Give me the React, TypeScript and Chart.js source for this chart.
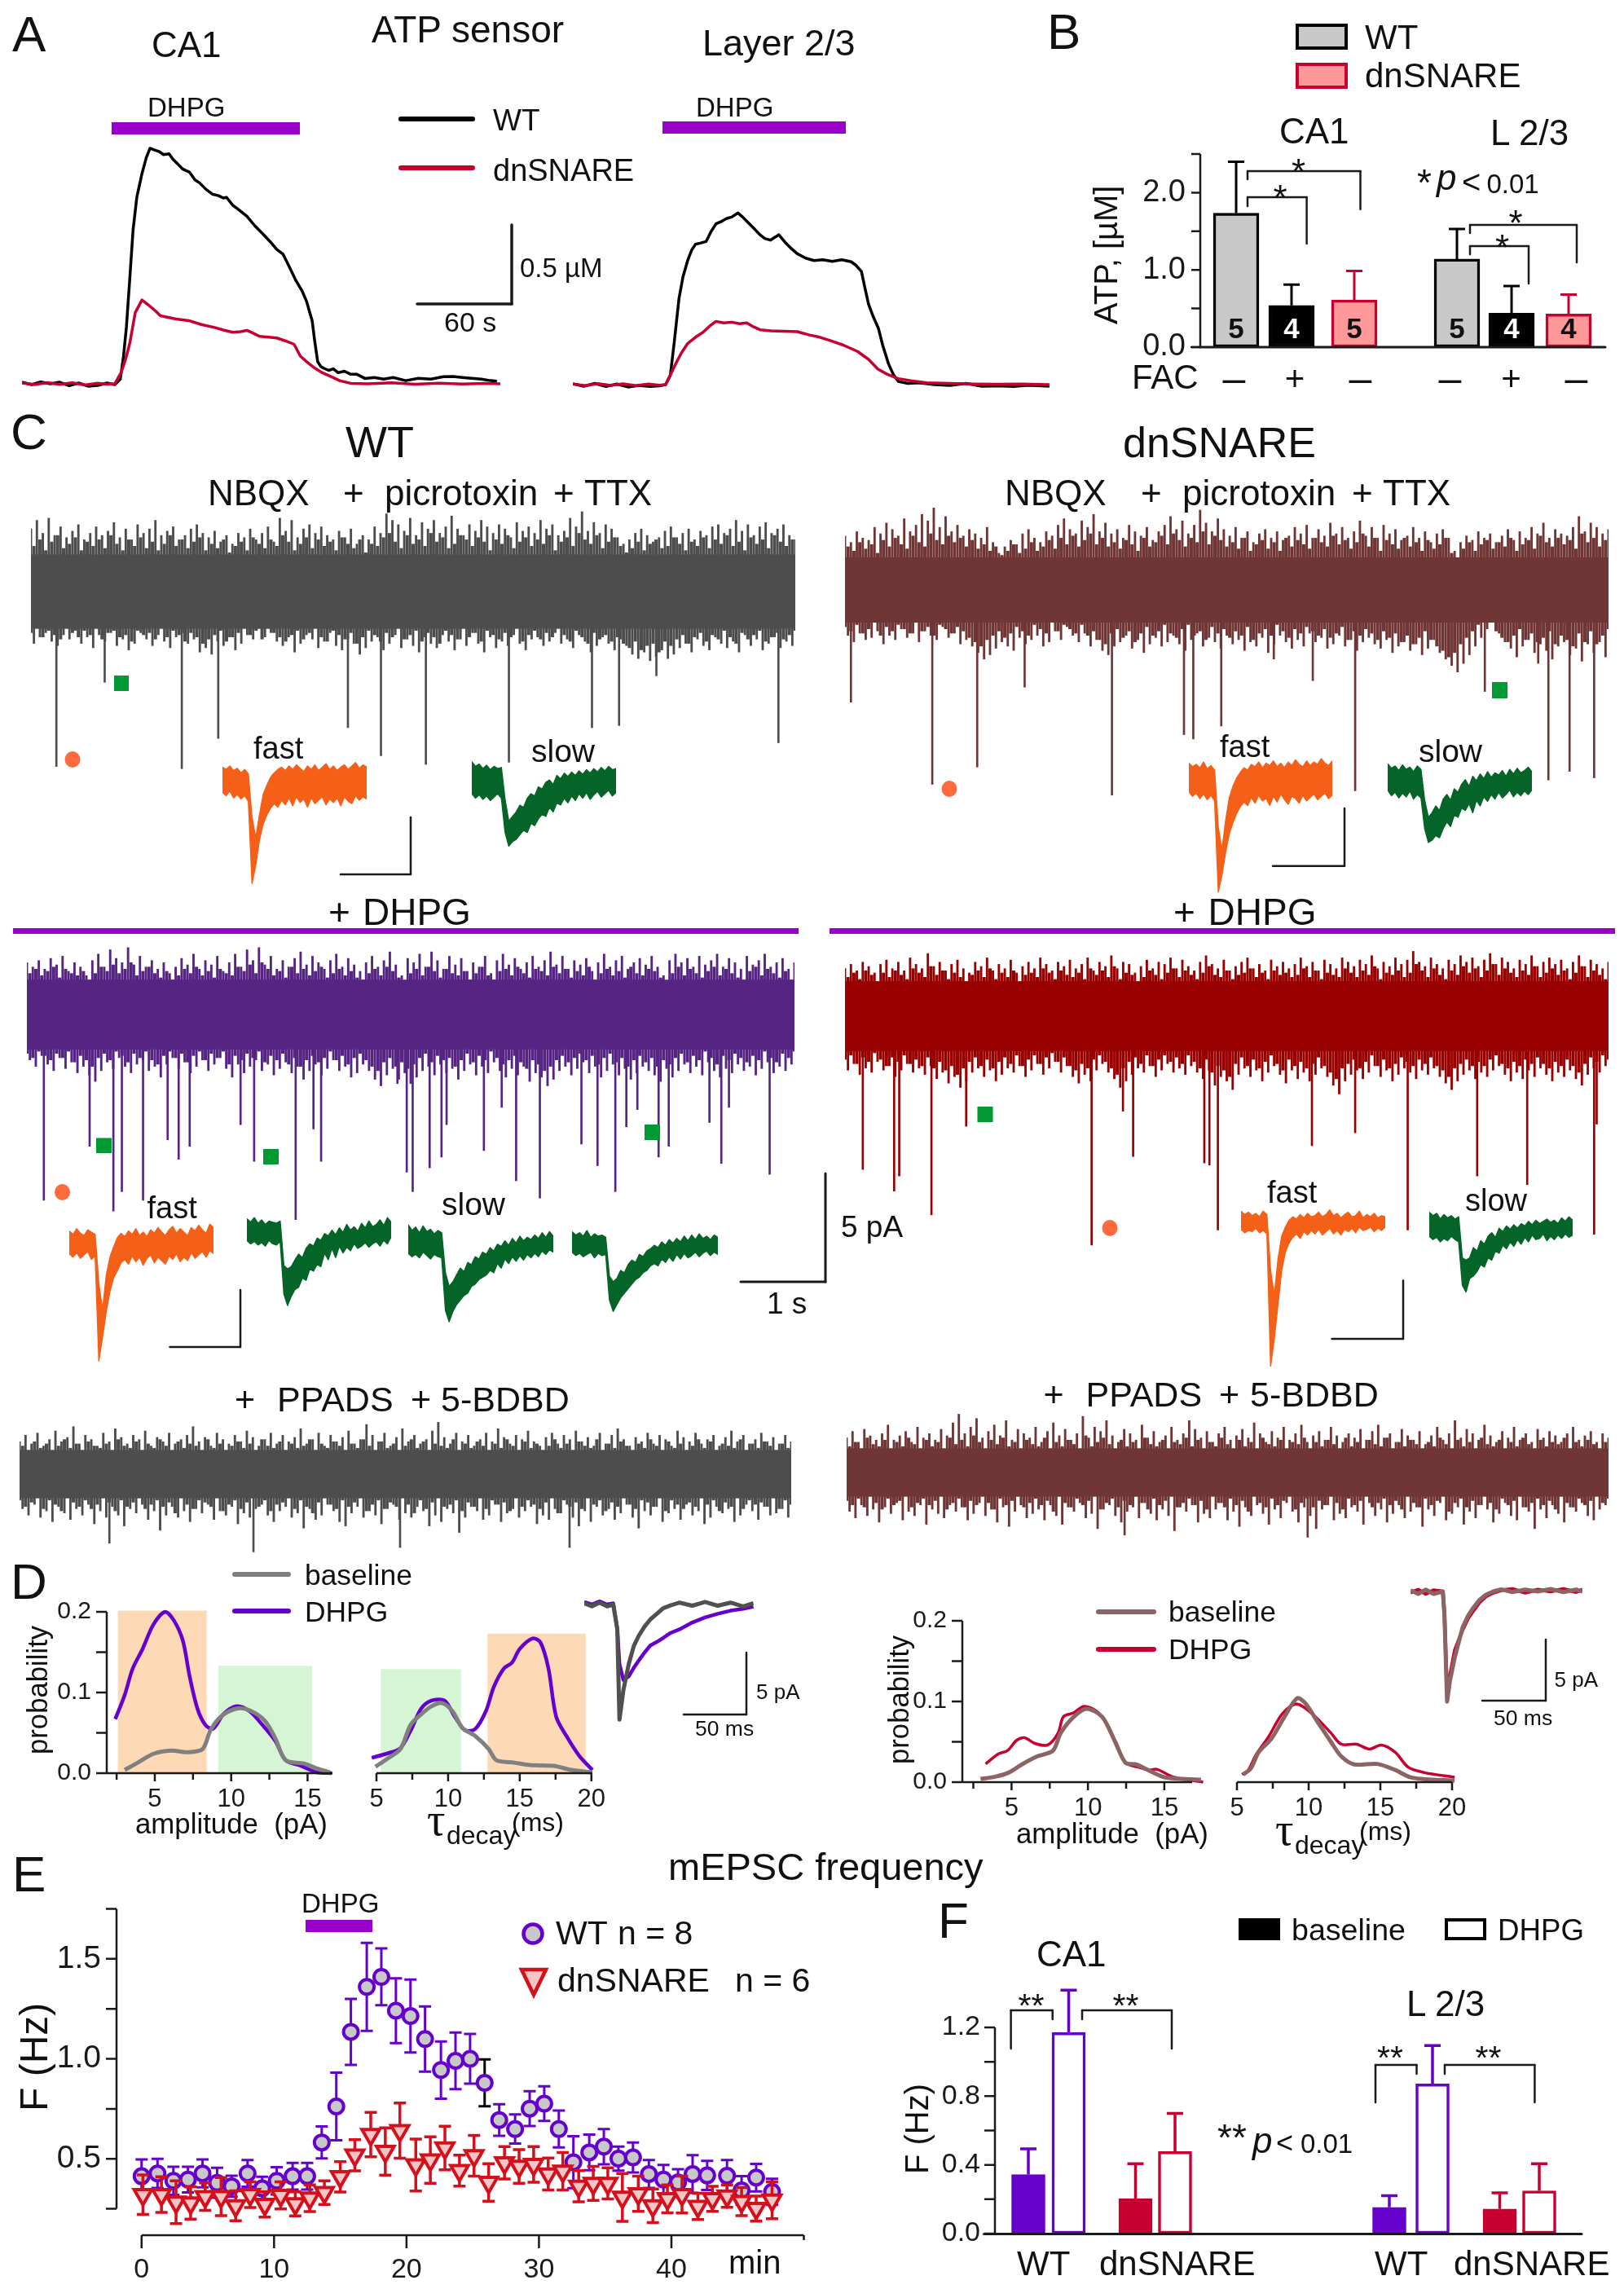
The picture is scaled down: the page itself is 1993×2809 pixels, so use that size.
import { useEffect, useRef } from "react";
import { Chart, registerables } from "chart.js";
Chart.register(...registerables);

// ---------- Panel A: ATP sensor traces (s, µM)
const aCa1WtT = [0,6,12,18,24,30,36,42,48,54,59,62.5,64.5,66.4,68.5,70.6,73,76.3,79,81.4,84,87,90,93.5,96,98.6,102,104,106.4,110,113,117,121,125,128,130,134,138,143,148,153,158,162,166,170,174,178,181,183,184.5,186,188,190,192,195,198,201,205,209,213,218,224,230,236,244,252,260,268,274,280,286,292,298,302];
const aCa1WtV = [0.01,-0.005,0.012,0,0.01,-0.012,0.005,-0.015,-0.01,0.005,-0.005,0.03,0.17,0.36,0.66,0.97,1.18,1.33,1.43,1.49,1.48,1.47,1.45,1.455,1.42,1.395,1.36,1.35,1.34,1.29,1.27,1.23,1.2,1.19,1.175,1.18,1.13,1.1,1.06,1,0.95,0.897,0.85,0.82,0.74,0.656,0.59,0.52,0.45,0.4,0.28,0.14,0.11,0.098,0.085,0.095,0.07,0.08,0.06,0.06,0.034,0.04,0.03,0.04,0.02,0.035,0.03,0.045,0.046,0.04,0.035,0.03,0.02,0.017];
const aCa1DnT = [0,8,16,24,32,40,48,54,59,63,66,68.6,72,76.3,81.4,85,88,93,98,106,114,123,128,134,139,143,147,151,157,162,168,173,177,181,186,191,196.5,202,209,220,235,250,265,280,295,306];
const aCa1DnV = [0.005,-0.005,0.008,-0.004,0.006,-0.008,0.004,-0.003,0,0.07,0.16,0.26,0.45,0.53,0.49,0.46,0.43,0.42,0.41,0.4,0.375,0.355,0.34,0.326,0.33,0.338,0.32,0.3,0.295,0.29,0.27,0.25,0.175,0.14,0.1,0.07,0.046,0.02,0.003,0,0.006,-0.002,0.004,-0.001,0.003,0];
const aL23WtT = [0,7,14,21,28,35,42,49,55,59,62,64.5,67.5,70,73,75.5,78,81,84.7,88,91,94,97.6,101,105,108,110.6,115,119,122,125.6,129,131,135,139,142.7,148,153.4,159,165,171,177,180,183.5,186,188,191,194.3,197,200.7,204,207,213,220,230,240,250,260,270,280,290,303];
const aL23WtV = [0.005,-0.01,0.008,-0.012,0.004,-0.015,-0.005,-0.012,-0.008,0,0.06,0.27,0.545,0.68,0.785,0.85,0.888,0.895,0.905,0.97,1.017,1.03,1.05,1.06,1.086,1.06,1.034,0.99,0.948,0.925,0.914,0.935,0.948,0.9,0.86,0.828,0.8,0.785,0.79,0.78,0.79,0.777,0.755,0.716,0.6,0.51,0.43,0.356,0.25,0.132,0.06,0.02,0.008,0.012,0,-0.005,0.008,-0.01,-0.008,-0.012,-0.004,-0.01];
const aL23DnT = [0,8,16,24,32,40,48,55,59,62,65.4,69,73,78,82.6,87,91,96,101,106,110.6,115,119,126,134,142.7,150,157,164,172,181,188,194,200,207,215,225,240,255,270,285,303];
const aL23DnV = [0.004,-0.006,0.006,-0.005,0.005,-0.006,0.004,-0.004,0,0.06,0.132,0.2,0.26,0.3,0.33,0.37,0.4,0.39,0.395,0.385,0.39,0.365,0.347,0.34,0.338,0.335,0.315,0.3,0.278,0.25,0.21,0.16,0.098,0.065,0.038,0.025,0.012,0.008,0.004,0.002,0.004,0];

// ---------- Panel B: ATP (µM)
const bValues = [1.735,0.54,0.61,1.14,0.44,0.43];
const bErrTop = [2.4,0.81,0.985,1.53,0.79,0.68];
const bSlots = [44,112,189,315,382,452];

// ---------- Panel C: current traces, envelope per time column (0.1 pA)
const c1Up = [29,33,27,34,26,30,25,28,31,24,27,30,26,28,32,25,29,24,31,27,29,33,26,28,30,24,26,29,31,27,25,28,23,26,22,27,25,29,24,27,30,23,34,28,33,25,29,31,27,30,26,24,28,25,29,22,26,24,30,27,36,33,31,28,34,26,32,29,33,27,30,35,29,26,31,28,33,30,27,31,29,25,32,28,30,27,33,29,31,26,28,34,30,37,28,32,27,31,29,25,22,24,27,29,26,23,25,28,30,25,27,29,24,28,26,30,31,27,29,33,28,31,26,30,32,27,29,31,26,24];
const c1UpMid = [21,24,19,23,26,20,22,25,19,23,21,24,20,26,22,19,24,21,25,20,23,19,22,26,21,24,20,23,25,19,22,20,24,18,21,23,19,25,22,20,24,21,26,23,19,22,25,20,24,21,23,19,25,22,20,24,18,22,21,25,27,23,20,26,22,24,21,27,23,25,20,22,26,24,21,25,23,19,24,22,26,20,23,25,21,24,22,26,19,23,25,21,27,24,22,26,20,23,25,21,18,20,23,19,22,24,20,21,25,22,19,23,21,25,20,24,22,26,21,23,19,25,22,24,20,26,23,21,24,20];
const c1Down = [-24,-21,-19,-23,-25,-20,-22,-18,-24,-21,-26,-20,-23,-19,-25,-22,-27,-24,-19,-22,-25,-20,-23,-26,-21,-19,-24,-22,-28,-26,-29,-23,-25,-21,-27,-24,-20,-22,-17,-21,-19,-23,-25,-21,-28,-24,-20,-22,-26,-23,-19,-25,-27,-22,-24,-29,-26,-23,-21,-27,-24,-20,-26,-22,-25,-28,-21,-24,-26,-20,-23,-27,-22,-25,-19,-24,-28,-21,-26,-23,-25,-20,-24,-27,-22,-21,-25,-23,-19,-24,-22,-26,-20,-23,-28,-25,-21,-24,-27,-22,-25,-29,-31,-28,-32,-30,-27,-31,-29,-26,-24,-28,-22,-25,-27,-21,-24,-26,-23,-28,-20,-25,-22,-27,-24,-21,-26,-23,-25,-20];
const c1DownMid = [-19,-17,-21,-18,-20,-22,-17,-19,-21,-18,-20,-17,-22,-19,-18,-21,-20,-23,-18,-20,-19,-22,-17,-21,-18,-20,-23,-19,-21,-24,-22,-20,-18,-23,-21,-19,-17,-20,-18,-22,-17,-19,-21,-23,-20,-18,-22,-19,-17,-21,-23,-18,-20,-22,-19,-24,-21,-18,-20,-23,-19,-21,-17,-22,-20,-18,-23,-19,-21,-24,-18,-20,-22,-17,-21,-19,-23,-18,-20,-22,-19,-21,-17,-23,-20,-18,-22,-19,-21,-17,-20,-23,-18,-21,-24,-19,-22,-20,-23,-21,-24,-26,-23,-27,-25,-24,-28,-23,-25,-22,-20,-24,-21,-19,-23,-20,-22,-18,-21,-24,-19,-22,-20,-18,-23,-21,-19,-22,-20,-18];
const c1SpikeT = [0.3,0.87,1.78,2.21,3.74,4.13,4.66,5.64,6.62,6.94,7.38,8.82];
const c1SpikeD = [-81,-42,-82,-68,-63,-76,-80,-79,-63,-62,-39,-70];

const c2Up = [25,22,27,24,23,29,26,31,28,25,33,27,30,35,32,38,29,34,27,30,25,28,26,24,29,22,17,20,23,21,26,28,24,22,27,25,30,33,28,26,32,29,35,27,31,26,28,24,30,27,25,29,23,27,30,34,28,32,26,30,37,31,27,33,28,25,29,24,27,22,26,28,24,27,23,25,29,26,30,24,28,25,31,26,29,24,27,32,25,29,24,30,26,28,23,25,29,24,27,22,26,28,24,18,22,25,23,27,24,26,22,25,28,23,27,24,29,26,31,24,28,26,25,29,34,27,31,29,26,28];
const c2UpMid = [20,18,22,19,21,17,23,20,24,21,19,25,22,20,26,23,21,25,22,24,20,23,19,21,18,20,16,18,21,17,19,22,18,20,23,19,24,21,25,20,23,26,21,24,20,22,19,23,21,18,24,20,22,25,21,26,23,20,24,22,27,21,25,23,20,22,19,24,18,21,23,19,22,18,24,20,23,21,19,24,22,20,25,21,23,19,22,26,20,24,18,23,21,19,24,20,22,18,23,19,21,24,17,15,19,22,18,21,23,19,22,20,24,18,21,23,19,25,22,20,24,21,23,19,26,22,24,20,23,21];
const c2Down = [-21,-24,-20,-23,-22,-19,-25,-21,-23,-18,-22,-20,-24,-19,-21,-23,-17,-22,-20,-25,-23,-26,-29,-32,-30,-27,-24,-26,-28,-22,-25,-23,-21,-26,-24,-19,-23,-17,-21,-24,-20,-26,-23,-28,-30,-26,-24,-21,-27,-23,-29,-25,-22,-26,-24,-21,-25,-28,-23,-20,-26,-22,-24,-27,-21,-25,-23,-28,-24,-26,-22,-29,-25,-21,-24,-27,-23,-26,-20,-24,-22,-27,-25,-21,-26,-23,-28,-24,-22,-25,-27,-23,-29,-26,-24,-28,-25,-30,-27,-23,-29,-32,-35,-38,-34,-30,-26,-22,-18,-14,-20,-24,-27,-31,-26,-23,-29,-25,-28,-32,-26,-24,-30,-27,-33,-25,-29,-24,-31,-26];
const c2DownMid = [-17,-19,-16,-20,-18,-15,-21,-17,-19,-16,-18,-20,-15,-19,-17,-21,-16,-18,-20,-17,-19,-22,-24,-26,-23,-21,-19,-22,-20,-17,-19,-21,-16,-18,-20,-15,-19,-16,-18,-20,-16,-21,-19,-23,-25,-20,-18,-22,-19,-24,-20,-17,-21,-19,-16,-20,-22,-18,-16,-21,-19,-23,-17,-20,-18,-22,-19,-21,-17,-23,-20,-18,-21,-16,-19,-22,-18,-20,-17,-19,-21,-18,-22,-20,-17,-23,-19,-21,-18,-20,-23,-19,-22,-20,-24,-21,-25,-22,-19,-23,-26,-28,-31,-29,-25,-22,-19,-16,-13,-15,-19,-22,-24,-21,-18,-23,-20,-24,-22,-19,-25,-21,-23,-26,-20,-24,-19,-25,-21,-18];
const c2SpikeT = [0.07,1.03,1.56,2.12,3.15,4,4.11,4.44,5.06,5.52,6.02,7.55,8.18,8.3,8.55,8.84];
const c2SpikeD = [-52,-90,-82,-45,-95,-67,-69,-63,-32,-42,-93,-47,-34,-88,-84,-87];

const c3Up = [24,22,25,21,26,23,27,20,24,22,18,25,28,22,30,26,24,31,23,27,22,25,21,24,19,22,26,23,28,21,25,23,27,20,24,28,22,30,25,31,23,27,21,25,22,26,29,23,27,24,21,25,28,22,26,23,20,24,27,22,25,29,23,18,26,24,28,22,29,25,21,27,23,26,20,24,22,27,19,25,28,23,26,21,24,27,22,25,29,23,27,21,25,23,26,20,24,28,22,25,27,21,24,26,23,27,22,18,25,28,24,26,22,27,23,25,28,22,26,24,21,27,23,25,28,22,24,26,21,24];
const c3UpMid = [19,21,18,20,22,17,21,19,18,20,16,19,22,20,23,19,21,24,18,20,22,19,17,20,16,18,21,19,22,18,20,17,21,19,18,22,20,23,19,24,21,18,20,17,22,19,21,18,20,22,17,19,21,18,20,17,16,19,21,18,22,20,17,15,19,21,18,22,20,17,21,19,18,20,16,19,22,18,16,20,21,18,22,19,17,21,20,18,22,19,21,17,20,18,22,16,19,21,18,20,17,22,19,18,21,20,17,15,19,22,18,21,19,17,20,22,18,21,19,17,16,20,22,18,21,19,17,20,16,19];
const c3Down = [-21,-24,-19,-23,-26,-20,-25,-22,-27,-24,-28,-31,-26,-22,-25,-20,-24,-27,-23,-21,-26,-24,-29,-23,-20,-25,-22,-27,-24,-21,-26,-23,-20,-25,-29,-23,-27,-24,-21,-26,-23,-28,-25,-22,-27,-24,-30,-26,-23,-28,-25,-21,-26,-24,-29,-27,-23,-26,-30,-33,-28,-25,-30,-27,-32,-29,-26,-24,-28,-23,-27,-25,-30,-26,-23,-28,-24,-27,-22,-26,-29,-25,-28,-24,-31,-27,-29,-33,-30,-26,-24,-28,-25,-22,-27,-24,-29,-26,-23,-28,-25,-30,-27,-24,-26,-28,-31,-25,-29,-26,-23,-27,-24,-28,-22,-26,-29,-25,-27,-23,-26,-24,-28,-25,-22,-27,-24,-26,-23,-25];
const c3DownMid = [-18,-20,-17,-19,-21,-18,-20,-17,-22,-19,-21,-24,-20,-18,-21,-17,-19,-22,-18,-20,-17,-21,-23,-19,-17,-20,-18,-22,-19,-17,-21,-18,-20,-17,-23,-19,-21,-18,-20,-17,-22,-19,-21,-18,-23,-20,-24,-21,-19,-22,-20,-17,-21,-19,-23,-20,-18,-21,-24,-26,-22,-20,-24,-22,-25,-23,-20,-18,-22,-19,-21,-20,-24,-21,-18,-22,-19,-21,-17,-20,-23,-21,-19,-22,-25,-21,-23,-26,-24,-21,-19,-22,-20,-18,-21,-19,-23,-20,-18,-22,-20,-24,-21,-19,-22,-20,-24,-21,-23,-20,-18,-22,-19,-21,-17,-20,-23,-19,-21,-18,-20,-22,-19,-21,-17,-20,-22,-18,-20,-17];
const c3SpikeT = [0.2,0.74,1.02,1.12,1.37,1.66,1.79,1.92,2.52,2.68,3.17,3.38,3.47,4.37,4.48,4.55,4.75,4.89,4.95,5.39,5.6,5.77,6.05,6.54,6.73,6.94,7.07,7.2,7.45,7.57,8.05,8.19,8.28,8.76];
const c3SpikeD = [-86,-61,-91,-82,-86,-58,-67,-61,-51,-68,-95,-53,-68,-32,-73,-82,-71,-66,-51,-63,-43,-77,-85,-60,-70,-82,-52,-44,-66,-61,-50,-69,-43,-74];

const c4Up = [22,24,21,25,23,20,24,26,22,25,21,27,24,22,29,23,25,21,24,26,22,20,25,23,27,21,24,22,26,20,23,25,22,27,24,21,25,23,26,22,24,27,21,25,23,28,22,25,24,20,23,26,22,25,24,27,22,26,23,21,25,28,24,22,26,21,23,25,27,22,24,21,26,23,25,22,24,27,23,25,21,26,24,22,27,25,23,26,24,28,22,25,23,27,24,26,30,25,23,27,24,22,26,24,28,25,27,23,26,29,24,27,25,22,26,24,28,23,25,27,24,26,22,25,28,23,26,24,22,25];
const c4UpMid = [18,20,17,21,19,16,20,18,21,19,17,22,20,18,23,19,21,17,20,18,16,19,21,18,22,17,20,18,21,16,19,20,18,22,20,17,21,19,18,20,17,22,19,21,18,23,17,20,19,16,18,21,19,17,20,22,18,21,19,17,20,23,19,18,21,17,19,20,22,18,20,17,21,19,20,18,19,22,18,21,17,20,19,18,22,20,18,21,19,23,17,20,19,21,18,20,24,21,18,22,19,17,21,19,23,20,22,18,21,24,19,22,20,18,21,19,23,18,20,22,19,21,17,20,23,18,21,19,17,20];
const c4Down = [-25,-22,-27,-24,-26,-21,-25,-23,-28,-25,-22,-26,-24,-27,-23,-29,-26,-31,-28,-33,-30,-26,-24,-28,-25,-30,-27,-24,-26,-23,-28,-25,-22,-27,-24,-21,-26,-23,-28,-31,-27,-30,-25,-22,-26,-29,-33,-30,-27,-24,-26,-23,-28,-25,-22,-26,-24,-27,-23,-26,-29,-25,-32,-28,-30,-34,-27,-24,-28,-25,-30,-26,-23,-27,-31,-25,-29,-26,-30,-27,-24,-28,-32,-36,-30,-27,-25,-29,-26,-23,-28,-25,-30,-27,-24,-26,-29,-25,-27,-24,-28,-31,-34,-30,-27,-25,-29,-26,-28,-25,-23,-27,-30,-26,-29,-25,-28,-24,-27,-30,-26,-28,-25,-29,-32,-27,-24,-26,-23,-25];
const c4DownMid = [-20,-18,-22,-19,-21,-17,-20,-23,-19,-21,-18,-22,-20,-23,-19,-24,-21,-25,-23,-27,-24,-21,-19,-23,-20,-24,-21,-19,-22,-18,-23,-20,-18,-22,-19,-17,-21,-19,-23,-25,-22,-24,-20,-18,-21,-24,-27,-24,-21,-19,-22,-18,-23,-20,-18,-21,-19,-22,-18,-21,-24,-20,-26,-23,-25,-28,-22,-19,-23,-20,-24,-21,-18,-22,-25,-20,-23,-21,-24,-22,-19,-23,-26,-29,-24,-22,-20,-24,-21,-18,-23,-20,-24,-22,-19,-21,-23,-20,-22,-19,-23,-25,-28,-24,-22,-20,-23,-21,-23,-20,-18,-22,-24,-21,-23,-20,-22,-19,-22,-24,-21,-23,-20,-23,-26,-22,-19,-21,-18,-20];
const c4SpikeT = [0.21,0.58,0.64,1.02,1.43,2.91,3.28,3.4,4.24,4.3,4.4,5.51,6.02,6.64,7.46,8.05,8.84,8.87];
const c4SpikeD = [-71,-81,-74,-92,-51,-106,-44,-65,-68,-69,-99,-60,-54,-99,-74,-78,-101,-50];

const c5Up = [15,18,14,19,13,16,20,15,17,22,14,18,16,13,19,15,21,17,14,18,16,20,13,17,15,19,14,16,18,22,15,17,13,19,16,14,18,15,20,17,13,16,19,14,18,15,17,21,14,16,19,13,18,15,17,20,14,16,23,18,15,19,13,17,21,15,18,14,16,20,24,17,14,19,15,18,13,16,19,15,21,17,14,18,16,20,15,13,17,19,14,18,16,20,15,17,13,19,14,18,21,16,13,17,15,19,14,18,16,13,20,17,15,19,14,16,18,13,17,20,15,18,14,16,19,15,17,14,18,15];
const c5UpMid = [13,11,15,12,14,11,13,16,12,14,11,15,13,12,14,11,16,13,12,15,11,14,12,16,13,11,15,12,14,13,11,16,12,14,11,13,15,12,14,11,16,13,12,15,11,14,12,13,16,11,14,12,15,13,11,14,12,16,13,11,15,12,14,11,13,16,12,15,11,14,13,12,16,11,14,12,15,13,11,14,12,16,13,11,15,12,14,11,13,16,12,14,11,15,13,12,16,11,14,12,15,13,11,14,12,16,13,11,15,12,14,11,13,16,12,15,11,14,13,12,16,11,14,12,15,13,11,14,12,13];
const c5Down = [-16,-19,-14,-20,-17,-22,-15,-18,-21,-16,-19,-14,-23,-17,-20,-15,-19,-24,-16,-18,-14,-21,-17,-26,-19,-15,-20,-17,-22,-16,-18,-14,-21,-17,-19,-15,-23,-18,-20,-16,-14,-19,-22,-17,-15,-20,-18,-25,-16,-21,-19,-14,-17,-22,-24,-18,-15,-20,-17,-19,-23,-16,-14,-21,-18,-20,-15,-17,-24,-19,-22,-16,-18,-27,-20,-15,-17,-21,-19,-14,-22,-18,-16,-20,-17,-15,-23,-19,-21,-16,-18,-14,-20,-24,-17,-22,-15,-19,-16,-21,-18,-14,-20,-25,-17,-19,-15,-22,-18,-16,-21,-14,-19,-17,-23,-20,-15,-18,-16,-22,-19,-14,-17,-21,-15,-19,-18,-16,-20,-15];
const c5DownMid = [-12,-15,-13,-11,-16,-12,-14,-17,-11,-13,-15,-12,-16,-14,-11,-13,-17,-12,-15,-13,-11,-16,-14,-12,-15,-13,-18,-11,-14,-16,-12,-13,-15,-11,-17,-14,-12,-16,-13,-11,-15,-12,-17,-14,-13,-11,-16,-12,-15,-18,-13,-11,-14,-16,-12,-15,-13,-11,-17,-14,-12,-16,-13,-15,-11,-14,-18,-12,-16,-13,-11,-15,-14,-12,-17,-13,-15,-11,-16,-12,-14,-13,-17,-11,-15,-12,-14,-16,-13,-11,-18,-12,-15,-13,-16,-11,-14,-12,-17,-13,-15,-11,-14,-16,-12,-13,-15,-11,-17,-12,-14,-16,-13,-15,-11,-14,-12,-17,-13,-15,-11,-16,-12,-14,-13,-15,-11,-16,-12,-14];
const c5SpikeT = [1.06,2.76,4.49,6.49];
const c5SpikeD = [-32,-36,-34,-34];

const c6Up = [16,19,14,20,17,15,18,22,15,17,19,14,21,16,18,15,20,17,23,27,18,21,25,16,19,22,17,24,15,20,18,16,21,14,19,23,17,20,15,18,26,16,21,19,24,17,14,20,18,15,22,16,19,14,17,21,15,18,24,20,16,19,14,18,21,15,17,20,16,23,18,14,19,16,21,15,18,22,14,17,19,15,21,17,14,18,16,20,15,19,22,16,18,14,20,17,15,19,13,17,21,15,18,24,16,20,18,15,22,17,14,19,16,21,15,18,14,20,16,19,17,14,18,21,15,17,19,14,18,16];
const c6UpMid = [12,14,11,16,13,12,15,11,14,12,16,13,11,15,12,14,11,16,13,15,12,17,14,11,15,13,16,12,14,11,15,13,12,16,11,14,12,15,13,11,17,12,14,16,13,11,15,12,14,11,16,13,12,15,11,14,13,16,12,15,11,14,12,16,13,11,15,12,14,11,16,13,12,15,11,14,13,16,11,14,12,15,13,11,16,12,14,11,15,13,12,16,11,14,12,15,13,11,14,12,16,13,11,15,12,14,11,16,13,12,15,11,14,12,16,13,11,15,12,14,13,16,11,14,12,15,13,11,14,12];
const c6Down = [-18,-21,-15,-20,-17,-23,-16,-19,-14,-22,-18,-20,-15,-24,-17,-19,-21,-15,-18,-16,-22,-19,-14,-20,-17,-23,-16,-25,-18,-15,-21,-19,-17,-22,-15,-20,-24,-16,-18,-14,-21,-19,-26,-17,-15,-20,-23,-18,-16,-21,-14,-19,-22,-17,-20,-27,-16,-18,-15,-23,-19,-21,-17,-14,-22,-18,-25,-16,-20,-15,-19,-24,-17,-21,-14,-18,-23,-16,-20,-26,-17,-15,-22,-19,-21,-16,-18,-24,-14,-20,-17,-23,-19,-15,-21,-18,-16,-25,-17,-20,-14,-22,-19,-16,-24,-18,-21,-15,-17,-23,-19,-14,-20,-22,-16,-18,-26,-17,-21,-15,-19,-23,-16,-18,-14,-20,-22,-17,-15,-19];
const c6DownMid = [-13,-15,-12,-16,-11,-14,-17,-12,-15,-13,-11,-16,-14,-12,-15,-13,-11,-17,-14,-12,-16,-13,-15,-11,-14,-17,-12,-15,-13,-11,-16,-14,-12,-15,-13,-18,-11,-14,-16,-12,-15,-13,-11,-17,-14,-12,-16,-13,-15,-11,-14,-17,-12,-15,-13,-11,-16,-14,-12,-15,-13,-17,-11,-14,-16,-12,-15,-13,-18,-11,-14,-16,-12,-15,-13,-11,-17,-14,-12,-16,-13,-15,-11,-14,-17,-12,-15,-13,-11,-16,-14,-12,-15,-13,-17,-11,-14,-16,-12,-15,-13,-11,-18,-14,-12,-16,-13,-15,-11,-14,-17,-12,-15,-13,-11,-16,-14,-12,-15,-13,-17,-11,-14,-16,-12,-15,-13,-11,-14,-12];
const c6SpikeT = [3.28,5.44];
const c6SpikeD = [-29,-30];

// single-event insets: upper and lower edge of the noisy trace (0.1 pA)
const wtFastHi = [14,12,15,11,13,9,12,8,-30,-48,-28,-10,-2,5,9,12,14,11,15,12,16,13,10,15,12,16,11,14,17,12,15,11,14,16,12,15,18,13,16,14];
const wtFastLo = [-8,-11,-7,-13,-10,-14,-11,-16,-88,-72,-50,-36,-28,-22,-18,-21,-15,-19,-13,-20,-12,-17,-14,-21,-13,-18,-15,-12,-19,-14,-17,-13,-20,-12,-16,-18,-11,-15,-12,-14];
const wtSlowHi = [18,14,16,12,15,11,14,12,13,-15,-34,-30,-26,-20,-22,-14,-10,-12,-4,-6,0,2,-2,6,3,8,5,9,6,10,7,11,8,12,9,13,10,14,11,12];
const wtSlowLo = [-10,-14,-11,-15,-12,-16,-13,-10,-14,-44,-56,-52,-50,-46,-42,-44,-36,-38,-32,-28,-30,-22,-26,-18,-20,-14,-18,-12,-16,-10,-14,-9,-15,-11,-8,-13,-10,-7,-12,-9];
const dnFastHi = [16,13,15,12,17,11,14,10,-40,-60,-34,-14,-4,3,8,12,10,15,13,17,12,16,14,18,13,16,12,17,14,19,15,13,18,14,17,15,20,16,14,18];
const dnFastLo = [-9,-13,-10,-15,-11,-16,-12,-17,-97,-82,-62,-46,-36,-28,-22,-18,-21,-14,-19,-12,-17,-15,-21,-13,-18,-11,-16,-20,-13,-15,-19,-12,-17,-14,-11,-16,-13,-10,-15,-12];
const dnSlowHi = [17,13,15,11,16,12,14,10,15,12,-15,-30,-26,-20,-24,-14,-10,-15,-5,-8,-1,3,-3,6,2,8,4,10,5,9,7,11,6,12,8,13,9,11,14,10];
const dnSlowLo = [-6,-11,-8,-13,-9,-12,-7,-14,-10,-13,-40,-52,-50,-46,-48,-40,-34,-38,-28,-30,-22,-24,-18,-26,-15,-20,-12,-16,-10,-14,-8,-13,-10,-6,-12,-8,-11,-7,-10,-6];
const dhFastHi = [11,8,13,9,7,12,10,8,-35,-58,-28,-12,-3,5,9,6,11,8,13,7,10,6,12,9,14,10,7,12,15,9,13,10,7,14,11,16,12,9,17,14];
const dhFastLo = [-9,-12,-8,-13,-10,-7,-14,-11,-103,-82,-60,-42,-30,-24,-17,-14,-18,-11,-16,-12,-19,-13,-10,-17,-12,-15,-18,-11,-14,-9,-16,-12,-15,-8,-13,-10,-7,-12,-6,-9];
const dhSlow1Hi = [16,13,17,12,15,11,14,13,12,14,-25,-28,-26,-20,-15,-18,-10,-6,-8,-1,-3,3,1,6,2,8,4,11,6,9,5,12,8,14,9,11,15,10,17,13];
const dhSlow1Lo = [-3,-6,-4,-7,-5,-8,-3,-6,-7,-4,-50,-60,-52,-46,-44,-36,-38,-28,-30,-24,-26,-14,-20,-10,-18,-8,-14,-9,-12,-6,-10,-8,-5,-9,-6,-4,-8,-3,-6,0];
const dhSlow2Hi = [20,15,18,13,19,14,16,12,15,13,-22,-34,-30,-24,-18,-21,-13,-15,-8,-10,-4,-6,0,-3,3,1,6,2,8,4,10,6,9,7,11,8,13,9,14,10];
const dhSlow2Lo = [-5,-8,-6,-9,-4,-7,-10,-6,-8,-9,-55,-65,-56,-50,-46,-42,-40,-34,-32,-28,-26,-24,-20,-22,-14,-18,-10,-14,-8,-12,-7,-11,-6,-9,-5,-8,-3,-6,-2,-4];
const dhSlow3Hi = [14,11,13,10,15,9,12,10,11,9,-25,-30,-27,-20,-22,-15,-11,-13,-6,-8,-3,-1,2,0,5,2,7,4,8,5,10,6,11,7,12,8,10,7,11,9];
const dhSlow3Lo = [-4,-7,-5,-8,-6,-4,-9,-5,-7,-6,-46,-56,-50,-44,-40,-36,-32,-28,-26,-22,-20,-16,-14,-16,-10,-13,-8,-12,-6,-10,-5,-9,-7,-4,-8,-5,-3,-7,-4,-6];
const drFastHi = [12,9,11,8,10,7,12,9,-40,-62,-30,-10,-2,4,7,5,9,6,10,7,8,11,7,9,13,8,10,6,9,11,7,8,12,6,9,7,10,6,8,7];
const drFastLo = [-4,-7,-5,-6,-3,-7,-5,-8,-124,-100,-70,-40,-24,-16,-11,-8,-12,-6,-9,-5,-8,-4,-9,-6,-3,-8,-5,-9,-4,-6,-3,-7,-2,-5,-4,-2,-6,-3,-5,-2];
const drSlowHi = [16,13,15,10,14,11,13,10,12,-24,-26,-24,-15,-18,-9,-12,-5,-2,-6,2,-1,4,1,5,2,6,4,8,5,9,6,8,10,7,9,6,11,8,12,9];
const drSlowLo = [-5,-8,-6,-10,-7,-9,-5,-8,-10,-48,-54,-42,-40,-36,-30,-32,-24,-26,-18,-20,-13,-16,-10,-14,-8,-12,-6,-10,-4,-8,-7,-3,-9,-5,-8,-4,-7,-3,-6,-4];

// ---------- Panel D: distributions (probability)
const d1AmpDhpg = [2.41,3.03,3.54,4.2,4.9,5.68,6.26,6.84,7.28,7.79,8.3,8.81,9.49,10.34,11.19,12.04,12.89,13.57,14.59,15.6,16.6];
const d1ProbDhpg = [0.067,0.097,0.129,0.154,0.184,0.2,0.189,0.164,0.12,0.08,0.06,0.055,0.073,0.083,0.077,0.06,0.04,0.016,0.009,0.001,0];
const d1AmpBase = [3.03,3.88,4.9,6.09,7.1,8.13,8.64,9.32,10.34,11.19,12.2,12.89,13.57,14.76,15.6,16.46];
const d1ProbBase = [0.004,0.013,0.024,0.028,0.026,0.03,0.053,0.07,0.08,0.078,0.065,0.043,0.016,0.012,0.006,0.001];
const d2TauDhpg = [4.67,5.76,6.67,7.39,8.12,8.84,9.75,10.47,11.2,11.9,12.64,13.19,13.9,14.46,15,15.9,16.45,17,17.54,18.26,19.17,20.07];
const d2ProbDhpg = [0.019,0.0245,0.031,0.053,0.08,0.09,0.09,0.07,0.053,0.055,0.077,0.107,0.13,0.137,0.154,0.167,0.162,0.13,0.07,0.046,0.021,0.004];
const d2TauBase = [4.93,5.76,6.67,7.39,8.12,8.84,9.57,10.3,11,11.9,12.83,13.37,14.64,15.72,17.36,18.6,20.07];
const d2ProbBase = [0.008,0.018,0.03,0.06,0.073,0.083,0.087,0.077,0.056,0.046,0.03,0.016,0.013,0.01,0.009,0.004,0.001];
const d3AmpDhpg = [3.3,4.15,4.73,5.34,5.85,6.53,7.37,8.05,8.39,9.07,9.75,10.6,11.27,11.95,12.46,13.3,13.98,14.49,15.5,16.5,17.54];
const d3ProbDhpg = [0.0226,0.035,0.039,0.052,0.055,0.048,0.046,0.061,0.081,0.086,0.094,0.0875,0.071,0.044,0.024,0.0185,0.015,0.016,0.007,0.003,0];
const d3AmpBase = [2.97,3.98,4.83,5.68,6.69,7.71,8.22,9.07,9.92,10.93,11.78,12.46,13.14,14.15,15,16.2,17.4];
const d3ProbBase = [0.004,0.007,0.012,0.022,0.032,0.039,0.061,0.081,0.091,0.081,0.05,0.024,0.022,0.013,0.006,0.004,0.003];
const d4TauDhpg = [5.36,5.79,6.33,7.23,8.13,9.03,9.57,10.47,11.55,12.27,13.35,14.24,15.07,16.04,16.94,18.02,20.18];
const d4ProbDhpg = [0.0094,0.015,0.034,0.057,0.084,0.0966,0.094,0.081,0.061,0.047,0.047,0.041,0.046,0.037,0.0185,0.012,0.006];
const d4TauBase = [5.43,5.97,6.51,7.41,8.31,9.2,9.75,10.65,11.55,12.27,13.17,14.78,16.04,17.12,18.74,20.18];
const d4ProbBase = [0.0094,0.017,0.037,0.054,0.081,0.104,0.098,0.074,0.05,0.032,0.022,0.0226,0.015,0.006,0.003,0.002];
// averaged events (ms, pA)
const diWtT = [0,6,12,18,22.8,26,27.7,30.8,35,39,43,47.3,52,57.5,62,67.8,75,85,95,105,115,125,133];
const diWtBase = [0.1,-0.15,0.15,-0.15,0,-2,-9.3,-6.9,-4.8,-3.35,-2.5,-1.8,-1.2,-0.72,-0.3,-0.07,0.15,-0.1,0.2,-0.1,0.15,-0.15,0.1];
const diWtDhpg = [0.2,0,0.25,0,0.1,-2,-4.8,-6.1,-5.8,-5.1,-4.5,-3.9,-3.3,-3,-2.7,-2.3,-2,-1.45,-1.05,-0.75,-0.5,-0.35,-0.17];
const diDnT = [0,6,12,18,25.4,26.7,28.7,31,34.8,40.9,45,49,54,59.2,65,71.2,80,90,100,110,120,130,135];
const diDnBase = [0.1,-0.2,0.15,-0.2,0,-2,-8.9,-7.2,-5.3,-2.9,-2,-1.36,-0.7,-0.26,0,0.17,-0.05,0.15,0,0.2,-0.05,0.15,0];
const diDnDhpg = [-0.1,0.15,-0.2,0.1,0,-2,-8.15,-6.8,-4.76,-3.1,-2.2,-1.6,-0.9,-0.4,-0.1,0.1,0.2,-0.1,0.15,0,0.2,-0.05,0.15];

// ---------- Panel E: mEPSC frequency (min, Hz)
const eWtT = [0,1.2,2.4,3.5,4.6,5.7,6.8,8,9.1,10.2,11.4,12.5,13.6,14.7,15.8,17,18.1,19.2,20.3,21.4,22.6,23.7,24.8,25.9,27,28.2,29.3,30.4,31.5,32.6,33.8,34.9,36,37.1,38.3,39.4,40.5,41.6,42.7,44.2,45.3,46.4,47.6];
const eWtMean = [0.413,0.427,0.39,0.396,0.427,0.38,0.363,0.427,0.352,0.39,0.413,0.413,0.582,0.762,1.135,1.36,1.41,1.241,1.214,1.099,0.944,0.99,1,0.88,0.694,0.649,0.751,0.776,0.649,0.483,0.532,0.561,0.501,0.507,0.424,0.396,0.382,0.424,0.417,0.415,0.342,0.406,0.335];
const eWtTop = [0.497,0.5,0.46,0.46,0.497,0.455,0.415,0.494,0.41,0.458,0.48,0.48,0.662,0.931,1.3,1.58,1.552,1.403,1.396,1.262,1.087,1.132,1.124,0.997,0.773,0.722,0.838,0.863,0.741,0.613,0.621,0.649,0.561,0.582,0.494,0.469,0.448,0.518,0.49,0.494,0.413,0.475,0.4];
const eDnT = [0.1,1.5,2.6,3.7,4.8,6,7.1,8.2,9.3,10.5,11.6,12.7,13.8,15,16.1,17.3,18.4,19.5,20.7,21.8,22.9,24,25.1,26.2,27.4,28.5,29.6,30.7,31.8,33,34.1,35.2,36.3,37.5,38.6,39.7,40.8,42,43.1,44.2,45.3,46.4,47.6];
const eDnMean = [0.321,0.321,0.283,0.279,0.311,0.311,0.265,0.321,0.272,0.317,0.275,0.303,0.331,0.41,0.518,0.621,0.537,0.641,0.469,0.494,0.554,0.441,0.515,0.382,0.48,0.462,0.472,0.424,0.438,0.363,0.377,0.377,0.307,0.325,0.265,0.3,0.321,0.262,0.3,0.314,0.286,0.251,0.293];
const eDnTop = [0.42,0.41,0.39,0.36,0.38,0.406,0.34,0.385,0.335,0.385,0.335,0.37,0.39,0.486,0.596,0.732,0.655,0.779,0.599,0.61,0.663,0.518,0.617,0.476,0.561,0.546,0.561,0.504,0.532,0.441,0.462,0.455,0.427,0.413,0.349,0.37,0.413,0.328,0.363,0.37,0.356,0.314,0.385];

// ---------- Panel F: frequency (Hz)
const fValues = [0.344,1.17,0.204,0.478,0.153,0.871,0.143,0.249];
const fErrTop = [0.493,1.417,0.407,0.7,0.22,1.094,0.237,0.407];
const fSlots = [41,90.5,172.5,221,484,537,619.5,668];

// ---------- styles
const FONT = "'Liberation Sans', Arial, Helvetica, sans-serif";
const INK = "#1a1a1a";
const PURPLE = "#6600cc";
const BAR_PURPLE = "#9900cc";
const RED = "#c8002f";
const ERED = "#d4101c";
const BROWN = "#8c6464";
const GREY = "#808080";
const ORANGE = "#f46018";
const GREEN = "#056427";
const SQ = "#009933";
const DOT = "#ff6a3c";

type Axis = { min: number; max: number; ticks?: number[]; labeled?: number[]; fmt?: (v: number) => string; font?: number; pad?: number; size?: number; spine?: [number, number]; len?: number; minorLen?: number };
type Spec = { box: [number, number, number, number]; ml?: number; mb?: number; mt?: number; mr?: number; type: any; datasets: any[]; x: Axis; y: Axis; bands?: any[]; errs?: any[] };

function scaleOpts(a: Axis, horizontal: boolean) {
  if (!a.ticks) return { type: "linear", display: false, min: a.min, max: a.max, offset: false };
  const labeled = a.labeled ?? a.ticks;
  const fmt = a.fmt ?? ((v: number) => String(v));
  return {
    type: "linear", min: a.min, max: a.max, offset: false,
    grid: { display: false, drawTicks: false },
    border: { display: false },
    afterBuildTicks: (s: any) => { s.ticks = a.ticks!.map((value) => ({ value })); },
    afterFit: (s: any) => {
      if (horizontal) s.height = a.size ?? 60; else s.width = a.size ?? 70;
      s.paddingLeft = s.paddingRight = s.paddingTop = s.paddingBottom = 0;
    },
    ticks: {
      autoSkip: false, maxRotation: 0, minRotation: 0, padding: a.pad ?? 10, color: INK,
      font: { family: FONT, size: a.font ?? 30 },
      callback: (v: number) => (labeled.includes(v) ? fmt(v) : ""),
    },
  };
}

function deco(spec: Spec) {
  return {
    id: "deco",
    beforeDatasetsDraw(chart: any) {
      const { ctx, scales } = chart;
      (spec.bands ?? []).forEach((b) => {
        const x0 = scales.x.getPixelForValue(b.x0), x1 = scales.x.getPixelForValue(b.x1);
        const y1 = scales.y.getPixelForValue(b.top), y0 = scales.y.getPixelForValue(0);
        ctx.fillStyle = b.color;
        ctx.fillRect(x0, y1, x1 - x0, y0 - y1);
      });
    },
    beforeDatasetDraw(chart: any, args: any) {
      const { ctx, scales } = chart;
      (spec.errs ?? []).filter((e) => e.ds === args.index).forEach((e) => {
        const meta = chart.getDatasetMeta(e.ds);
        const ds = chart.data.datasets[e.ds];
        meta.data.forEach((el: any, i: number) => {
          const raw = ds.data[i].y;
          const hi = scales.y.getPixelForValue(e.hi[i]);
          const lo = scales.y.getPixelForValue(e.sym ? 2 * raw - e.hi[i] : raw);
          ctx.strokeStyle = (e.colors && e.colors[i]) || e.color;
          ctx.lineWidth = e.w;
          ctx.beginPath();
          ctx.moveTo(el.x, lo); ctx.lineTo(el.x, hi);
          ctx.moveTo(el.x - e.cap / 2, hi); ctx.lineTo(el.x + e.cap / 2, hi);
          if (e.sym) { ctx.moveTo(el.x - e.cap / 2, lo); ctx.lineTo(el.x + e.cap / 2, lo); }
          ctx.stroke();
        });
      });
    },
    afterDatasetsDraw(chart: any) {
      const { ctx, scales, chartArea } = chart;
      ctx.save();
      ctx.strokeStyle = INK;
      ctx.lineWidth = 2.5;
      if (spec.x.spine) {
        const s = scales.x, y = chartArea.bottom;
        ctx.beginPath();
        ctx.moveTo(s.getPixelForValue(spec.x.spine[0]), y);
        ctx.lineTo(s.getPixelForValue(spec.x.spine[1]), y);
        (s.ticks ?? []).forEach((t: any) => {
          const px = s.getPixelForValue(t.value);
          const len = t.label ? spec.x.len ?? 10 : spec.x.minorLen ?? 6;
          ctx.moveTo(px, y); ctx.lineTo(px, y + len);
        });
        ctx.stroke();
      }
      if (spec.y.spine) {
        const s = scales.y, x = chartArea.left;
        ctx.beginPath();
        ctx.moveTo(x, s.getPixelForValue(spec.y.spine[0]));
        ctx.lineTo(x, s.getPixelForValue(spec.y.spine[1]));
        (s.ticks ?? []).forEach((t: any) => {
          const py = s.getPixelForValue(t.value);
          ctx.moveTo(x, py); ctx.lineTo(x - (spec.y.len ?? 12), py);
        });
        ctx.stroke();
      }
      ctx.restore();
    },
  };
}

const xy = (xs: number[], ys: number[]) => ys.map((y, i) => ({ x: xs[i], y }));
const lineDs = (xs: number[], ys: number[], color: string, w: number, tension = 0) => ({
  data: xy(xs, ys), borderColor: color, borderWidth: w, pointRadius: 0, tension, fill: false, clip: false, borderJoinStyle: "round",
});

const PA = 26.5 / 10; // px per 0.1 pA, from the 5 pA calibration
const S = 104; // px per s
function traceSpec(x0: number, x1: number, yc: number, color: string, core: number, up: number[], upMid: number[], down: number[], downMid: number[], spT: number[], spD: number[]): Spec {
  const span = (x1 - x0) / S;
  const dt = span / (up.length - 1);
  const top = yc - 110, bottom = yc + 300;
  const bar = { type: "bar", backgroundColor: color, grouped: false, clip: false, borderWidth: 0 };
  const col = (vals: number[], shift: number, sign: number) =>
    vals.map((v, i) => ({ x: (i + shift) * dt, y: sign > 0 ? [0, v] : [v, 0] }));
  return {
    box: [x0, top, x1, bottom], type: "bar",
    x: { min: 0, max: span },
    y: { min: -(bottom - yc) / PA, max: (yc - top) / PA },
    datasets: [
      { ...bar, data: [{ x: span / 2, y: [-core, core] }], barThickness: x1 - x0 },
      { ...bar, data: col(up, 0, 1), barThickness: 2.2 },
      { ...bar, data: col(upMid, 0.5, 1), barThickness: 3.4 },
      { ...bar, data: col(down, 0.5, -1), barThickness: 2.2 },
      { ...bar, data: col(downMid, 0, -1), barThickness: 3.4 },
      { ...bar, data: spT.map((t, i) => ({ x: t, y: [spD[i], 0] })), barThickness: 2 },
    ],
  };
}
function eventSpec(x0: number, x1: number, base: number, color: string, hi: number[], lo: number[]): Spec {
  const top = base - 30, bottom = base + 190;
  const idx = hi.map((_, i) => i);
  return {
    box: [x0, top, x1, bottom], type: "line",
    x: { min: 0, max: hi.length - 1 },
    y: { min: -(bottom - base) / 1.4, max: (base - top) / 1.4 },
    datasets: [
      { ...lineDs(idx, hi, color, 1.4), fill: "+1", backgroundColor: color },
      lineDs(idx, lo, color, 1.4),
    ],
  };
}
function atpSpec(x0: number, x1: number, base: number, sets: any[]): Spec {
  const top = 150, bottom = 490;
  return {
    box: [x0, top, x1, bottom], type: "line",
    x: { min: 0, max: (x1 - x0) / 1.93 },
    y: { min: (base - bottom) / 194, max: (base - top) / 194 },
    datasets: sets,
  };
}
const distY = (ticksFont = 30): Axis => ({ min: 0, max: 0.2, ticks: [0, 0.05, 0.1, 0.15, 0.2], labeled: [0, 0.1, 0.2], fmt: (v) => v.toFixed(1), font: ticksFont, size: 70, pad: 19, spine: [0, 0.2], len: 13 });
const fiveTicks = [2.5, 5, 7.5, 10, 12.5, 15];

const SPECS: Spec[] = [
  atpSpec(27, 614, 471, [lineDs(aCa1DnT, aCa1DnV, RED, 3.5), lineDs(aCa1WtT, aCa1WtV, "#000", 3.5)]),
  atpSpec(703, 1289, 472, [lineDs(aL23DnT, aL23DnV, RED, 3.5), lineDs(aL23WtT, aL23WtV, "#000", 3.5)]),
  {
    box: [1473, 189, 1970, 426], ml: 75, mb: 30, mt: 30, type: "bar",
    x: { min: 0, max: 497 },
    y: { min: 0, max: 2.5, ticks: [0, 0.5, 1, 1.5, 2, 2.5], labeled: [0, 1, 2], fmt: (v) => v.toFixed(1), font: 38, pad: 18, size: 75, spine: [0, 2.5], len: 11 },
    datasets: [{
      data: xy(bSlots, bValues), barThickness: 56, grouped: false, borderSkipped: false, clip: false,
      backgroundColor: ["#c8c8c8", "#000", "#ff9999", "#c8c8c8", "#000", "#ff9999"],
      borderColor: ["#000", "#000", RED, "#000", "#000", RED], borderWidth: 3.5,
    }],
    errs: [{ ds: 0, hi: bErrTop, color: "#000", colors: ["#000", "#000", RED, "#000", "#000", RED], cap: 20, w: 3 }],
  },
  traceSpec(38, 976, 725.6, "#4d4d4d", 17, c1Up, c1UpMid, c1Down, c1DownMid, c1SpikeT, c1SpikeD),
  traceSpec(1037, 1974, 723.5, "#703535", 15, c2Up, c2UpMid, c2Down, c2DownMid, c2SpikeT, c2SpikeD),
  traceSpec(33, 974.5, 1245, "#562583", 16, c3Up, c3UpMid, c3Down, c3DownMid, c3SpikeT, c3SpikeD),
  traceSpec(1037, 1974, 1247, "#990000", 16, c4Up, c4UpMid, c4Down, c4DownMid, c4SpikeT, c4SpikeD),
  traceSpec(23.6, 970.6, 1808.5, "#4d4d4d", 11, c5Up, c5UpMid, c5Down, c5DownMid, c5SpikeT, c5SpikeD),
  traceSpec(1039, 1974, 1807, "#703535", 11, c6Up, c6UpMid, c6Down, c6DownMid, c6SpikeT, c6SpikeD),
  eventSpec(273, 450, 960.6, ORANGE, wtFastHi, wtFastLo),
  eventSpec(579, 756, 960, GREEN, wtSlowHi, wtSlowLo),
  eventSpec(1459, 1635, 958.7, ORANGE, dnFastHi, dnFastLo),
  eventSpec(1703, 1880, 960.6, GREEN, dnSlowHi, dnSlowLo),
  eventSpec(85, 261.5, 1525.6, ORANGE, dhFastHi, dhFastLo),
  eventSpec(303, 479.6, 1518, GREEN, dhSlow1Hi, dhSlow1Lo),
  eventSpec(500.6, 678.6, 1530.7, GREEN, dhSlow2Hi, dhSlow2Lo),
  eventSpec(701.5, 880, 1530.7, GREEN, dhSlow3Hi, dhSlow3Lo),
  eventSpec(1523, 1700.4, 1502.6, ORANGE, drFastHi, drFastLo),
  eventSpec(1753.6, 1930, 1510, GREEN, drSlowHi, drSlowLo),
  {
    box: [131, 1977.7, 408, 2176], ml: 70, mb: 50, mt: 20, mr: 20, type: "line",
    x: { min: 1.853, max: 16.63, ticks: fiveTicks, labeled: [5, 10, 15], font: 31, pad: 14, size: 50, spine: [1.853, 16.63], len: 10, minorLen: 8 },
    y: distY(),
    bands: [{ x0: 2.58, x1: 8.4, top: 0.2015, color: "#fdd9b5" }, { x0: 9.15, x1: 15.3, top: 0.133, color: "#d5f5d5" }],
    datasets: [lineDs(d1AmpBase, d1ProbBase, GREY, 5, 0.3), lineDs(d1AmpDhpg, d1ProbDhpg, PURPLE, 4.5, 0.3)],
  },
  {
    box: [461.7, 1977.7, 727, 2176], ml: 25, mr: 25, mb: 50, mt: 20, type: "line",
    x: { min: 5, max: 20.07, ticks: [5, 7.5, 10, 12.5, 15, 17.5, 20], labeled: [5, 10, 15, 20], font: 31, pad: 14, size: 50, spine: [5, 20.07], len: 10, minorLen: 8 },
    y: { min: 0, max: 0.2 },
    bands: [{ x0: 5.3, x1: 10.9, top: 0.129, color: "#d5f5d5" }, { x0: 12.75, x1: 19.6, top: 0.173, color: "#fdd9b5" }],
    datasets: [lineDs(d2TauBase, d2ProbBase, GREY, 5, 0.3), lineDs(d2TauDhpg, d2ProbDhpg, PURPLE, 4.5, 0.3)],
  },
  {
    box: [1180.5, 1988.7, 1462, 2186.7], ml: 70, mb: 50, mt: 20, mr: 25, type: "line",
    x: { min: 1.78, max: 16.82, ticks: fiveTicks, labeled: [5, 10, 15], font: 31, pad: 14, size: 50, spine: [1.78, 16.82], len: 10, minorLen: 8 },
    y: distY(),
    datasets: [lineDs(d3AmpBase, d3ProbBase, BROWN, 5, 0.3), lineDs(d3AmpDhpg, d3ProbDhpg, RED, 3.5, 0.3)],
  },
  {
    box: [1518, 1988.7, 1782, 2186.7], ml: 25, mr: 25, mb: 50, mt: 20, type: "line",
    x: { min: 5, max: 20, ticks: [5, 7.5, 10, 12.5, 15, 17.5, 20], labeled: [5, 10, 15, 20], font: 31, pad: 14, size: 50, spine: [5, 20], len: 10, minorLen: 8 },
    y: { min: 0, max: 0.2 },
    datasets: [lineDs(d4TauBase, d4ProbBase, BROWN, 5, 0.3), lineDs(d4TauDhpg, d4ProbDhpg, RED, 3.5, 0.3)],
  },
  {
    box: [717, 1950, 925, 2120], type: "line",
    x: { min: 0, max: 133.3 },
    y: { min: -(2120 - 1969) / 15.2, max: (1969 - 1950) / 15.2 },
    datasets: [lineDs(diWtT, diWtBase, "#505050", 5), lineDs(diWtT, diWtDhpg, PURPLE, 4.5)],
  },
  {
    box: [1731, 1935, 1942, 2100], type: "line",
    x: { min: 0, max: 135 },
    y: { min: -(2100 - 1953) / 15.2, max: (1953 - 1935) / 15.2 },
    datasets: [lineDs(diDnT, diDnBase, BROWN, 5), lineDs(diDnT, diDnDhpg, RED, 4.5)],
  },
  {
    box: [143, 2336, 992.6, 2743], ml: 80, mb: 60, mt: 10, mr: 10, type: "line",
    x: { min: -1.894, max: 50, ticks: [0, 10, 20, 30, 40, 50], labeled: [0, 10, 20, 30, 40], font: 34, pad: 22, size: 60, spine: [0, 50], len: 16 },
    y: { min: 0.118, max: 1.75, ticks: [0.25, 0.5, 0.75, 1, 1.25, 1.5, 1.75], labeled: [0.5, 1, 1.5], fmt: (v) => v.toFixed(1), font: 39, pad: 19, size: 80, spine: [0.25, 1.75], len: 13 },
    datasets: [
      { data: xy(eDnT, eDnMean), showLine: false, pointStyle: "triangle", rotation: 180, pointRadius: 12.5, pointBackgroundColor: "#f5c4c4", pointBorderColor: ERED, pointBorderWidth: 4, clip: false },
      { data: xy(eWtT, eWtMean), showLine: false, pointStyle: "circle", pointRadius: 9, pointBackgroundColor: "#c8c8c8", pointBorderColor: PURPLE, pointBorderWidth: 4, clip: false },
    ],
    errs: [
      { ds: 0, hi: eDnTop, sym: true, color: ERED, cap: 15, w: 3.5 },
      { ds: 1, hi: eWtTop, sym: true, color: PURPLE, colors: { 23: "#000" }, cap: 15, w: 3 },
    ],
  },
  {
    box: [1221, 2488.3, 1941, 2741.4], ml: 70, mb: 30, mt: 50, type: "bar",
    x: { min: 0, max: 720 },
    y: { min: 0, max: 1.2, ticks: [0, 0.2, 0.4, 0.6, 0.8, 1, 1.2], labeled: [0, 0.4, 0.8, 1.2], fmt: (v) => v.toFixed(1), font: 34, pad: 18, size: 70, spine: [0, 1.2], len: 13 },
    datasets: [{
      data: xy(fSlots, fValues), barThickness: 41, grouped: false, borderSkipped: false, clip: false,
      backgroundColor: [PURPLE, "#fff", RED, "#fff", PURPLE, "#fff", RED, "#fff"],
      borderColor: [PURPLE, PURPLE, RED, RED, PURPLE, PURPLE, RED, RED], borderWidth: 3.5,
    }],
    errs: [{ ds: 0, hi: fErrTop, color: PURPLE, colors: [PURPLE, PURPLE, RED, RED, PURPLE, PURPLE, RED, RED], cap: 20, w: 3.5 }],
  },
];

// ---------- annotation layers
type Txt = [string, number, number, number, any?];
const star = (x: number, cy: number, f: number, s = "*"): Txt => [s, x, cy + 0.59 * f, f, { anchor: "middle" }];
const TEXTS: Txt[] = [
  ["A", 15, 63, 62], ["B", 1285, 60, 62], ["C", 13, 551, 62], ["D", 13, 1962, 62], ["E", 15, 2321, 62], ["F", 1151, 2378, 62],
  ["CA1", 186, 70, 44], ["ATP sensor", 456, 52, 46], ["Layer 2/3", 862, 68, 45],
  ["DHPG", 181, 143, 33], ["DHPG", 854, 143, 33], ["WT", 605, 160, 37], ["dnSNARE", 605, 222, 38],
  ["0.5 µM", 638, 340, 33], ["60 s", 545, 407, 34],
  ["WT", 1675, 60, 42], ["dnSNARE", 1675, 107, 42], ["CA1", 1570, 176, 44], ["L 2/3", 1829, 178, 44],
  star(1593.6, 200, 44), star(1571, 232, 44), star(1860, 263, 44), star(1843.6, 293, 44), star(1748, 213, 46),
  ["p", 1763, 233, 44, { italic: true }], ["<", 1794, 237, 40], ["0.01", 1824.5, 237, 33],
  ["ATP, [µM]", 1371, 398, 40, { rot: true }],
  ["FAC", 1389, 477, 42],
  ["–", 1514.5, 481, 50, { anchor: "middle" }], ["+", 1589, 479, 42, { anchor: "middle" }], ["–", 1669.5, 481, 50, { anchor: "middle" }],
  ["–", 1779.5, 481, 50, { anchor: "middle" }], ["+", 1854.5, 479, 42, { anchor: "middle" }], ["–", 1934.5, 481, 50, { anchor: "middle" }],
  ["5", 1517, 415, 35, { anchor: "middle", bold: true }], ["4", 1585, 415, 35, { anchor: "middle", bold: true, fill: "#fff" }], ["5", 1662, 415, 35, { anchor: "middle", bold: true }],
  ["5", 1788, 415, 35, { anchor: "middle", bold: true }], ["4", 1855, 415, 35, { anchor: "middle", bold: true, fill: "#fff" }], ["4", 1925, 415, 35, { anchor: "middle", bold: true }],
  ["WT", 424, 561, 54], ["dnSNARE", 1378, 561, 52],
  ["NBQX", 255, 620, 44], ["+", 421, 620, 44], ["picrotoxin", 472, 620, 44], ["+", 679, 620, 44], ["TTX", 717, 620, 44],
  ["NBQX", 1233, 620, 44], ["+", 1400, 620, 44], ["picrotoxin", 1451, 620, 44], ["+", 1659, 620, 44], ["TTX", 1697, 620, 44],
  ["+", 403, 1135, 46], ["DHPG", 445, 1135, 46], ["+", 1440, 1135, 46], ["DHPG", 1482.6, 1135, 46],
  ["fast", 311, 931, 38], ["slow", 652, 935, 39], ["fast", 1497, 929, 38], ["slow", 1741, 935, 39],
  ["fast", 180.5, 1495, 38], ["slow", 542, 1491, 39], ["fast", 1555, 1475.6, 38], ["slow", 1798, 1486, 38],
  ["5 pA", 1032, 1518, 37], ["1 s", 941, 1612, 37],
  ["+", 288, 1732, 43], ["PPADS", 340, 1732, 43], ["+", 504, 1732, 43], ["5-BDBD", 541, 1732, 43],
  ["+", 1280.5, 1725.6, 43], ["PPADS", 1332.5, 1725.6, 43], ["+", 1496, 1725.6, 43], ["5-BDBD", 1534, 1725.6, 43],
  ["baseline", 374, 1945, 35.4], ["DHPG", 374, 1990, 35.4], ["baseline", 1434, 1990, 35.4], ["DHPG", 1434, 2036, 35.4],
  ["probability", 58, 2153, 34.7, { rot: true }], ["probability", 1115, 2165, 34.7, { rot: true }],
  ["amplitude  (pA)", 166, 2250, 34.8], ["amplitude  (pA)", 1247, 2262, 34.8],
  ["τ", 524, 2252, 56, { serif: true }], ["decay", 548, 2263, 32], ["(ms)", 628, 2247, 32],
  ["τ", 1565, 2264, 56, { serif: true }], ["decay", 1589, 2275, 32], ["(ms)", 1668, 2258, 32],
  ["5 pA", 928, 2085, 26], ["50 ms", 853, 2130, 26.5], ["5 pA", 1907.5, 2070, 26], ["50 ms", 1833, 2117, 26.5],
  ["mEPSC frequency", 820, 2307, 47],
  ["DHPG", 370, 2347, 33], ["WT", 682, 2386, 41], ["n = 8", 758, 2386, 41], ["dnSNARE", 684, 2444, 41], ["n = 6", 902, 2444, 41],
  ["F (Hz)", 58, 2591, 48, { rot: true }], ["min", 894, 2790, 40],
  ["CA1", 1272, 2413, 44], ["L 2/3", 1726, 2473.6, 44],
  ["baseline", 1585, 2381, 37.6], ["DHPG", 1838, 2381, 36.7],
  ["F (Hz)", 1139, 2668, 40, { rot: true }],
  ["WT", 1248, 2792, 42], ["dnSNARE", 1349, 2792, 42], ["WT", 1687, 2792, 42], ["dnSNARE", 1784, 2792, 42],
  star(1265.5, 2451, 41, "**"), star(1381.5, 2451, 41, "**"), star(1706, 2515, 41, "**"), star(1826.5, 2515, 41, "**"),
  star(1512, 2612, 46, "**"), ["p", 1537, 2642, 44, { italic: true }], ["<", 1566, 2642, 36], ["0.01", 1596, 2642, 33],
];
// [x1, y1, x2, y2, width, colour]
const RULES: any[] = [
  [628, 276, 628, 373, 3.5, INK], [512, 373, 628, 373, 3.5, INK],
  [492, 146, 580, 146, 6, "#000"], [492, 206, 580, 206, 6, RED],
  [1531, 220, 1531, 210, 2.5, INK], [1531, 210, 1669.5, 210, 2.5, INK], [1669.5, 210, 1669.5, 256.7, 2.5, INK],
  [1531, 253, 1531, 242, 2.5, INK], [1531, 242, 1603.6, 242, 2.5, INK], [1603.6, 242, 1603.6, 299, 2.5, INK],
  [1804, 286, 1804, 276, 2.5, INK], [1804, 276, 1935, 276, 2.5, INK], [1935, 276, 1935, 322, 2.5, INK],
  [1804, 312, 1804, 302, 2.5, INK], [1804, 302, 1876, 302, 2.5, INK], [1876, 302, 1876, 348, 2.5, INK],
  [1462, 426, 1473, 426, 2.5, INK], [1473, 426, 1970, 426, 3, INK],
  [504, 1003, 504, 1073, 2.5, INK], [418, 1073, 504, 1073, 2.5, INK],
  [1650, 992, 1650, 1062.7, 2.5, INK], [1562, 1062.7, 1650, 1062.7, 2.5, INK],
  [295, 1583, 295, 1653, 2.5, INK], [208.5, 1653, 295, 1653, 2.5, INK],
  [1722, 1571.5, 1722, 1643, 2.5, INK], [1634.6, 1643, 1722, 1643, 2.5, INK],
  [1013, 1440, 1013, 1573, 3, INK], [909, 1573, 1013, 1573, 3, INK],
  [288, 1932, 354, 1932, 6, GREY], [288, 1977, 354, 1977, 6, PURPLE],
  [1348, 1978, 1416, 1978, 6, BROWN], [1416, 2024, 1348, 2024, 6, RED],
  [916, 2028, 916, 2104, 2.5, INK], [839, 2104, 916, 2104, 2.5, INK],
  [1897, 2012, 1897, 2087, 2.5, INK], [1819, 2087, 1897, 2087, 2.5, INK],
  [1240.6, 2514, 1240.6, 2467, 2.5, INK], [1240.6, 2467, 1291.7, 2467, 2.5, INK], [1291.7, 2467, 1291.7, 2478, 2.5, INK],
  [1328, 2478, 1328, 2467, 2.5, INK], [1328, 2467, 1438, 2467, 2.5, INK], [1438, 2467, 1438, 2514, 2.5, INK],
  [1688, 2580, 1688, 2534, 2.5, INK], [1688, 2534, 1738.5, 2534, 2.5, INK], [1738.5, 2534, 1738.5, 2545, 2.5, INK],
  [1773, 2545, 1773, 2534, 2.5, INK], [1773, 2534, 1883.4, 2534, 2.5, INK], [1883.4, 2534, 1883.4, 2580, 2.5, INK],
  [1207.5, 2741.4, 1941, 2741.4, 3, INK],
];
// [x, y, w, h, fill, stroke, strokeWidth]
const BOXES: any[] = [
  [137, 150, 231, 15, BAR_PURPLE], [813, 149, 225, 15, BAR_PURPLE],
  [1592, 31, 60, 28, "#c8c8c8", "#000", 4], [1592, 79, 60, 28, "#ff9999", RED, 4],
  [16, 1139, 964, 7, BAR_PURPLE], [1018, 1139, 964, 7, BAR_PURPLE],
  [140, 829, 18, 19, SQ], [1831, 837, 19, 20, SQ], [118, 1396.5, 19, 18.5, SQ], [323, 1410, 19, 19, SQ], [791, 1380, 19, 19, SQ], [1199.5, 1358, 19, 19, SQ],
  [375, 2356, 82, 15, BAR_PURPLE],
  [1520, 2354, 51, 27, "#000"], [1775, 2356, 47, 23, "#fff", "#000", 4],
];
const DOTS: number[][] = [[89, 932], [1165, 968], [76.5, 1463], [1362, 1507]];

export default function App() {
  const canvases = useRef<(HTMLCanvasElement | null)[]>([]);
  useEffect(() => {
    const charts = SPECS.map((spec, i) => {
      const ml = spec.y.ticks ? 0 : spec.ml ?? 0;
      const mb = spec.x.ticks ? 0 : spec.mb ?? 0;
      return new Chart(canvases.current[i] as HTMLCanvasElement, {
        type: spec.type,
        data: { datasets: spec.datasets },
        plugins: [deco(spec) as any],
        options: {
          animation: false, responsive: false, events: [],
          layout: { padding: { left: ml, bottom: mb, top: spec.mt ?? 0, right: spec.mr ?? 0 } },
          plugins: { legend: { display: false }, tooltip: { enabled: false } },
          scales: { x: scaleOpts(spec.x, true) as any, y: scaleOpts(spec.y, false) as any },
        },
      });
    });
    return () => charts.forEach((c) => c.destroy());
  }, []);
  return (
    <div style={{ position: "absolute", left: 0, top: 0, width: 1993, height: 2809, background: "#fff", overflow: "hidden" }}>
      {SPECS.map((s, i) => {
        const ml = s.ml ?? 0, mb = s.mb ?? 0, mt = s.mt ?? 0, mr = s.mr ?? 0;
        const w = Math.round(s.box[2] - s.box[0] + ml + mr), h = Math.round(s.box[3] - s.box[1] + mt + mb);
        return (
          <canvas key={i} ref={(el) => { canvases.current[i] = el; }} width={w} height={h}
            style={{ position: "absolute", left: s.box[0] - ml, top: s.box[1] - mt, width: w, height: h }} />
        );
      })}
      <svg width={1993} height={2809} style={{ position: "absolute", left: 0, top: 0, pointerEvents: "none" }}>
        {BOXES.map((b, i) => <rect key={i} x={b[0]} y={b[1]} width={b[2]} height={b[3]} fill={b[4]} stroke={b[5] ?? "none"} strokeWidth={b[6] ?? 0} />)}
        {RULES.map((r, i) => <line key={i} x1={r[0]} y1={r[1]} x2={r[2]} y2={r[3]} strokeWidth={r[4]} stroke={r[5]} strokeLinecap="round" />)}
        {DOTS.map((d, i) => <ellipse key={i} cx={d[0]} cy={d[1]} rx={9.5} ry={10} fill={DOT} />)}
        <circle cx={654} cy={2373} r={11.5} fill="#c8c8c8" stroke={PURPLE} strokeWidth={4.5} />
        <polygon points="640,2417 670,2417 655,2448" fill="#f5c4c4" stroke={ERED} strokeWidth={4.5} />
        {TEXTS.map(([t, x, y, f, o], i) => (
          <text key={i} x={x} y={y} fontSize={f} fontFamily={o?.serif ? "'Liberation Serif', serif" : FONT} fill={o?.fill ?? "#111"} textAnchor={o?.anchor ?? "start"}
            fontStyle={o?.italic ? "italic" : "normal"} fontWeight={o?.bold ? "bold" : "normal"} xmlSpace="preserve"
            transform={o?.rot ? `rotate(-90 ${x} ${y})` : undefined}>{t}</text>
        ))}
      </svg>
    </div>
  );
}
